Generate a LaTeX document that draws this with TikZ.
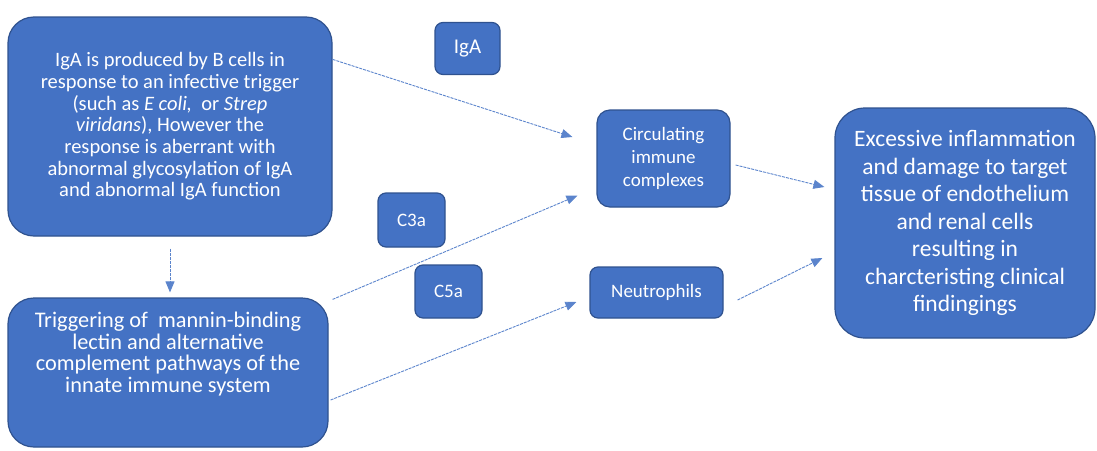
\documentclass[tikz,border=0pt]{standalone}
\usepackage{fontspec}
\setmainfont{Carlito}
\usepackage{tikz}
\usepackage{xcolor}
\usetikzlibrary{arrows.meta, positioning}
\definecolor{BoxFill}{HTML}{4472C4}
\definecolor{BoxEdge}{HTML}{2F528F}
\definecolor{LinkBlue}{HTML}{5B84CC}

\begin{document}
\begin{tikzpicture}[
    x=1pt, y=-1pt,
    blk/.style={
      draw=BoxEdge,
      fill=BoxFill,
      line width=1.2pt,
      text=white,
      align=center,
      inner sep=0pt,
      rounded corners=12pt,
    },
    bigblk/.style={blk, rounded corners=26pt},
    tag/.style={blk, rounded corners=8pt, font=\fontsize{19}{22}\selectfont},
    link/.style={
      -{Triangle[length=11pt,width=9pt]},
      draw=LinkBlue,
      line width=0.9pt,
      dash pattern=on 3pt off 1pt,
    },
  ]
    \useasboundingbox (0,0) rectangle (1097,450);

    % left column
    \node[bigblk, minimum width=324pt, minimum height=219pt,
      font=\fontsize{20.5}{21.7}\selectfont] (prod) at (170,126.5) {%
      IgA is produced by B cells in\\
      response to an infective trigger\\
      (such as \textit{E coli,}\ \ or \textit{Strep}\\
      \textit{viridans}), However the\\
      response is aberrant with\\
      abnormal glycosylation of IgA\\
      and abnormal IgA function};
    \node[bigblk, minimum width=320pt, minimum height=149pt,
      font=\fontsize{22.3}{21.7}\selectfont] (trig) at (168,372.5) {%
      Triggering of\ \ mannin-binding\\
      lectin and alternative\\
      complement pathways of the\\
      innate immune system\\[19pt]\mbox{}};

    % mediators
    \node[tag, minimum width=65pt, minimum height=52pt,
      font=\fontsize{21}{22}\selectfont] (iga) at (467.5,48.5) {IgA};
    \node[tag, minimum width=67pt, minimum height=54pt] (c3a) at (411.5,220) {C3a};
    \node[tag, minimum width=67pt, minimum height=53pt] (c5a) at (448.5,291.5) {C5a};

    \node[tag, minimum width=133pt, minimum height=97pt,
      rounded corners=13pt, font=\fontsize{19}{23}\selectfont] (circ) at (663.5,158.5) {%
      Circulating\\ immune\\ complexes};
    \node[tag, minimum width=133pt, minimum height=51pt] (neut) at (656.5,292.5) {Neutrophils};

    % outcome
    \node[bigblk, minimum width=260pt, minimum height=230pt, rounded corners=30pt,
      font=\fontsize{23.5}{27.5}\selectfont] (harm) at (965,223) {%
      Excessive inflammation\\
      and damage to target\\
      tissue of endothelium\\
      and renal cells\\
      resulting in\\
      charcteristing clinical\\
      findingings};

    % connectors
    \draw[link, shorten <=12pt, shorten >=5pt] (prod.south) -- (prod.south |- trig.north);
    \draw[link] ([yshift=-43pt]prod.north east) -- ([xshift=-24pt,yshift=21.5pt]circ.west);
    \draw[link] ([xshift=4pt,yshift=-2pt]trig.north east) -- ([xshift=-19pt,yshift=12pt]circ.south west);
    \draw[link] ([xshift=2pt,yshift=-27.5pt]trig.east) -- ([xshift=-13pt,yshift=-9.5pt]neut.west);
    \draw[link] ([xshift=5pt,yshift=-6.5pt]circ.east) -- ([xshift=-10pt,yshift=36pt]harm.west);
    \draw[link] ([xshift=14pt,yshift=-7.5pt]neut.east) -- ([xshift=-12pt,yshift=-35pt]harm.west);
  \end{tikzpicture}
\end{document}
